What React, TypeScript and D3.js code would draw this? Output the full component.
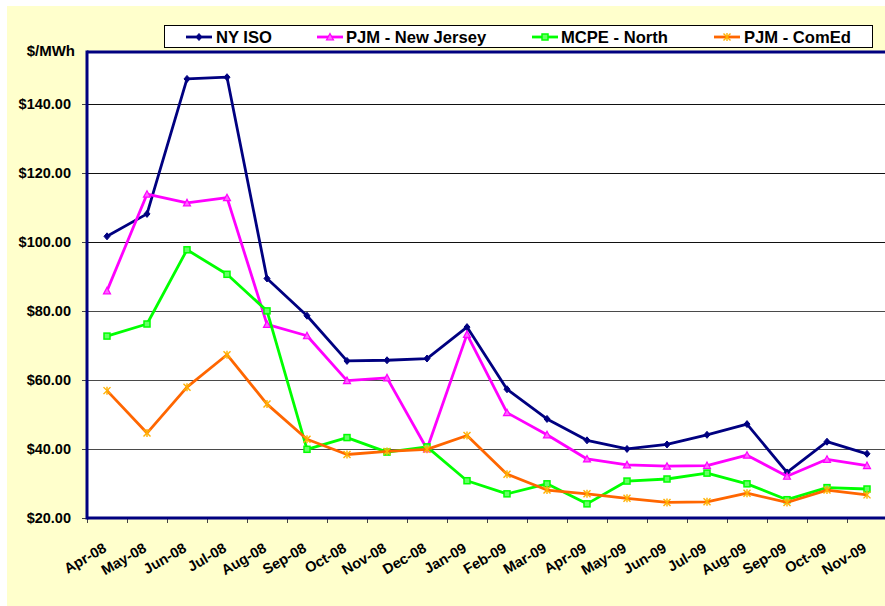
import React from "react";
import * as d3 from "d3";

const months = ["Apr-08","May-08","Jun-08","Jul-08","Aug-08","Sep-08","Oct-08","Nov-08","Dec-08","Jan-09","Feb-09","Mar-09","Apr-09","May-09","Jun-09","Jul-09","Aug-09","Sep-09","Oct-09","Nov-09"];
const nyIso = [101.6,108.1,147.2,147.7,89.4,78.6,65.5,65.7,66.2,75.3,57.3,48.7,42.5,40.0,41.3,44.1,47.2,33.2,42.1,38.6];
const pjmNewJersey = [85.8,113.8,111.3,112.8,76.1,72.8,59.8,60.6,40.0,73.2,50.5,44.1,37.1,35.4,35.0,35.2,38.2,32.1,37.0,35.2];
const mcpeNorth = [72.7,76.2,97.7,90.6,80.0,39.9,43.3,39.1,40.6,30.8,27.0,29.9,24.1,30.7,31.3,33.0,29.9,25.3,28.8,28.4];
const pjmComEd = [56.9,44.6,57.9,67.3,53.0,42.8,38.4,39.3,39.9,43.9,32.7,28.1,27.0,25.7,24.5,24.7,27.2,24.5,28.1,26.7];
const yTicks = [20,40,60,80,100,120,140];
const seriesNames = ["NY ISO","PJM - New Jersey","MCPE - North","PJM - ComEd"];

const W = 885, H = 606;
const FONT = "'Liberation Sans', Arial, sans-serif";

type MarkerKind = "diamond" | "triangle" | "square" | "star";

function Marker({ kind, x, y, color, accent }: { kind: MarkerKind; x: number; y: number; color: string; accent: string }) {
  if (kind === "diamond") {
    return <path d={`M${x},${y - 3.5}L${x + 3},${y}L${x},${y + 3.5}L${x - 3},${y}Z`} fill={color} stroke={color} strokeWidth={1} />;
  }
  if (kind === "triangle") {
    return <path d={`M${x},${y - 3.5}L${x + 3.5},${y + 3}L${x - 3.5},${y + 3}Z`} fill={accent} stroke={color} strokeWidth={1.2} />;
  }
  if (kind === "square") {
    return <rect x={x - 3} y={y - 3} width={6} height={6} fill={accent} stroke={color} strokeWidth={1.5} />;
  }
  return (
    <g stroke={accent} strokeWidth={1.4}>
      <line x1={x - 3.5} y1={y - 3.5} x2={x + 3.5} y2={y + 3.5} />
      <line x1={x - 3.5} y1={y + 3.5} x2={x + 3.5} y2={y - 3.5} />
      <line x1={x} y1={y - 4} x2={x} y2={y + 4} />
    </g>
  );
}

export default function App() {
  const left = 87, right = 887, top = 52, bottom = 518;
  const x = d3.scaleBand<string>().domain(months).range([left, right]);
  const y = d3.scaleLinear().domain([20, 155]).range([bottom, top]);
  const cx = (m: string) => (x(m) as number) + x.bandwidth() / 2;

  const series = [
    { name: seriesNames[0], values: nyIso, color: "#000080", accent: "#000080", kind: "diamond" as MarkerKind },
    { name: seriesNames[1], values: pjmNewJersey, color: "#FF00FF", accent: "#FF66FF", kind: "triangle" as MarkerKind },
    { name: seriesNames[2], values: mcpeNorth, color: "#00FF00", accent: "#66FF66", kind: "square" as MarkerKind },
    { name: seriesNames[3], values: pjmComEd, color: "#FF6600", accent: "#FFB000", kind: "star" as MarkerKind },
  ];

  const line = d3.line<number>().x((_, i) => cx(months[i])).y((v) => y(v));

  const legendItems = [
    { lx: 186, tx: 216 },
    { lx: 317, tx: 346 },
    { lx: 532, tx: 561 },
    { lx: 714, tx: 744 },
  ];

  return (
    <svg width={W} height={H} style={{ position: "absolute", left: 0, top: 0 }} fontFamily={FONT}>
      <rect x={0} y={0} width={W} height={H} fill="#ffffff" />
      <rect x={7} y={6} width={W} height={H} fill="#FFFFCC" />
      <rect x={left} y={top} width={right - left} height={bottom - top} fill="#ffffff" />
      {yTicks.map((t) => (
        <g key={t}>
          {t > 20 && (
            <line x1={left} x2={right} y1={Math.round(y(t)) + 0.5} y2={Math.round(y(t)) + 0.5} stroke={t >= 100 ? "#111" : "#4a4a4a"} strokeWidth={1} />
          )}
          <line x1={left - 5} x2={left} y1={Math.round(y(t)) + 0.5} y2={Math.round(y(t)) + 0.5} stroke="#444" strokeWidth={1} />
          <text x={71} y={y(t) + 5} textAnchor="end" fontSize={14.5} fontWeight="bold" fill="#000">
            {d3.format("$.2f")(t)}
          </text>
        </g>
      ))}
      {months.map((m, i) => (
        <line key={"t" + m} x1={left + i * x.bandwidth() + 0.5} x2={left + i * x.bandwidth() + 0.5} y1={bottom} y2={bottom + 5} stroke="#444" strokeWidth={1} />
      ))}
      {months.map((m) => (
        <text key={m} transform={`translate(${cx(m) + 0.5},${551}) rotate(-30)`} textAnchor="end" fontSize={14.5} fontWeight="bold" fill="#000">
          {m}
        </text>
      ))}
      <text x={75} y={56} textAnchor="end" fontSize={15} fontWeight="bold" fill="#000">$/MWh</text>

      {series.map((s) => (
        <g key={s.name}>
          <path d={line(s.values) as string} fill="none" stroke={s.color} strokeWidth={2.8} strokeLinejoin="round" />
          {s.values.map((v, i) => (
            <Marker key={i} kind={s.kind} x={cx(months[i])} y={y(v)} color={s.color} accent={s.accent} />
          ))}
        </g>
      ))}

      <line x1={left} x2={W} y1={top} y2={top} stroke="#000080" strokeWidth={3} />
      <line x1={left} x2={W} y1={bottom} y2={bottom} stroke="#000080" strokeWidth={3} />
      <line x1={left} x2={left} y1={top - 1.5} y2={bottom + 1.5} stroke="#000080" strokeWidth={3} />

      <rect x={164.5} y={25.5} width={708} height={22} fill="#ffffff" stroke="#000" strokeWidth={1} />
      {series.map((s, i) => (
        <g key={"lg" + s.name}>
          <line x1={legendItems[i].lx} x2={legendItems[i].lx + 26} y1={37} y2={37} stroke={s.color} strokeWidth={2.8} />
          <Marker kind={s.kind} x={legendItems[i].lx + 13} y={37} color={s.color} accent={s.accent} />
          <text x={legendItems[i].tx} y={43} fontSize={16.6} fontWeight="bold" fill="#000">{s.name}</text>
        </g>
      ))}
    </svg>
  );
}
